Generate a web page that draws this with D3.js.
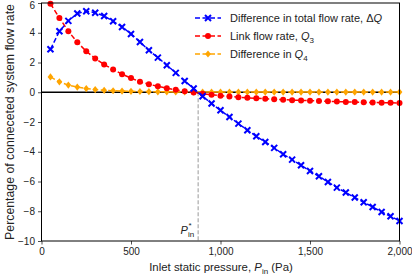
<!DOCTYPE html>
<html><head><meta charset="utf-8">
<script src="https://cdn.jsdelivr.net/npm/d3@7"></script>
<style>
html,body{margin:0;padding:0;background:#fff;}
text{font-family:"Liberation Sans",Arial,sans-serif;}
</style></head>
<body><svg id="c" width="412" height="278"></svg>
<script>
const pressures = [50,100,150,200,250,300,350,400,450,500,550,600,650,700,750,800,850,900,950,1000,
  1050,1100,1150,1200,1250,1300,1350,1400,1450,1500,1550,1600,1650,1700,1750,1800,1850,1900,1950,2000];
const deltaQ = [2.89,4.1,4.8,5.29,5.45,5.35,5.13,4.77,4.39,3.92,3.38,2.82,2.33,1.82,1.30,0.76,0.25,-0.27,-0.76,-1.21,
  -1.66,-2.11,-2.55,-2.96,-3.34,-3.74,-4.17,-4.53,-4.91,-5.29,-5.65,-6.03,-6.41,-6.74,-7.08,-7.39,-7.71,-8.05,-8.34,-8.65];
const linkQ3 = [5.95,5.0,4.1,3.36,2.76,2.27,1.86,1.53,1.21,0.95,0.7,0.54,0.4,0.27,0.17,0.07,-0.02,-0.1,-0.17,-0.23,
  -0.28,-0.33,-0.37,-0.41,-0.44,-0.47,-0.5,-0.53,-0.55,-0.57,-0.59,-0.61,-0.63,-0.65,-0.66,-0.68,-0.69,-0.7,-0.71,-0.72];
const diffQ4 = [1.03,0.7,0.48,0.35,0.25,0.18,0.13,0.1,0.08,0.06,0.05,0.04,0.03,0.03,0.02,0.02,0.02,0.01,0.01,0.01,
  0.01,0.01,0.01,0.01,0.01,0.01,0.01,0.01,0.01,0.01,0.01,0.01,0.01,0.01,0.01,0.01,0.01,0.01,0.01,0.01];
const xTicks = [0,500,1000,1500,2000];
const yTicks = [-10,-8,-6,-4,-2,0,2,4,6];
const pStar = 875;

const svg = d3.select("#c");
const L=41.5, R=399.5, T=3, B=241;
const x = d3.scaleLinear().domain([0,2000]).range([L,R]);
const y = d3.scaleLinear().domain([-10,6]).range([B,T]);

const xa = svg.append("g").attr("transform",`translate(0,${B})`)
  .call(d3.axisBottom(x).tickValues(xTicks).tickSize(3.5).tickPadding(3).tickFormat(d3.format(",")));
const ya = svg.append("g").attr("transform",`translate(${L},0)`)
  .call(d3.axisLeft(y).tickValues(yTicks).tickSize(3.5).tickPadding(3).tickFormat(d=>d<0?"\u2212"+Math.abs(d):d));
[xa,ya].forEach(a=>{a.select(".domain").remove();
  a.selectAll("text").attr("font-size",10).attr("fill","#222").style("font-family","'Liberation Sans',Arial,sans-serif");
  a.selectAll("line").attr("stroke","#222").attr("stroke-width",0.8);});
ya.selectAll(".tick").filter(d=>d===6).select("text").attr("dy","0.5em");

svg.append("line").attr("x1",L).attr("x2",R).attr("y1",y(0)).attr("y2",y(0))
  .attr("stroke","#000").attr("stroke-width",1.5);
svg.append("line").attr("x1",x(pStar)).attr("x2",x(pStar)).attr("y1",y(0)).attr("y2",B)
  .attr("stroke","#999").attr("stroke-width",1).attr("stroke-dasharray","4,2");

const series = [
  {vals:deltaQ, color:"#0000ff", marker:"x"},
  {vals:linkQ3, color:"#ff0000", marker:"o"},
  {vals:diffQ4, color:"#ffa500", marker:"d"}
];
svg.append("clipPath").attr("id","pc").append("rect").attr("x",L).attr("y",T).attr("width",R-L).attr("height",B-T);
function drawMarker(g, cx, cy, m, color){
  if(m==="x"){
    const s=3;
    g.append("path").attr("d",`M${cx-s},${cy-s}L${cx+s},${cy+s}M${cx-s},${cy+s}L${cx+s},${cy-s}`)
      .attr("stroke",color).attr("stroke-width",2).attr("fill","none");
  } else if(m==="o"){
    g.append("circle").attr("cx",cx).attr("cy",cy).attr("r",3).attr("fill",color);
  } else {
    const s=3.6;
    g.append("path").attr("d",`M${cx},${cy-s}L${cx+s*0.8},${cy}L${cx},${cy+s}L${cx-s*0.8},${cy}Z`).attr("fill",color);
  }
}
[2,1,0].forEach(i=>{
  const s=series[i];
  const g=svg.append("g");
  const line=d3.line().x((d,j)=>x(pressures[j])).y(d=>y(d));
  g.append("path").datum(s.vals).attr("d",line).attr("fill","none").attr("stroke",s.color)
    .attr("stroke-width",1.5).attr("stroke-dasharray","5,2.5").attr("clip-path","url(#pc)");
  s.vals.forEach((v,j)=>drawMarker(g,x(pressures[j]),y(v),s.marker,s.color));
});

svg.append("rect").attr("x",L).attr("y",T).attr("width",R-L).attr("height",B-T)
  .attr("fill","none").attr("stroke","#000").attr("stroke-width",1);

const legend = [
  {c:"#0000ff",m:"x",parts:[["Difference in total flow rate, \u0394",""],["Q","i"]]},
  {c:"#ff0000",m:"o",parts:[["Link flow rate, ",""],["Q","i"],["3","sub"]]},
  {c:"#ffa500",m:"d",parts:[["Difference in ",""],["Q","i"],["4","sub"]]}
];
legend.forEach((e,i)=>{
  const yy=18+i*18;
  const g=svg.append("g");
  g.append("line").attr("x1",195).attr("x2",221).attr("y1",yy).attr("y2",yy)
    .attr("stroke",e.c).attr("stroke-width",1.5).attr("stroke-dasharray","5,2.5");
  drawMarker(g,208,yy,e.m,e.c);
  const t=svg.append("text").attr("x",230).attr("y",yy+4).attr("font-size",11).attr("fill","#222");
  e.parts.forEach(p=>{
    const ts=t.append("tspan").text(p[0]);
    if(p[1]==="i") ts.attr("font-style","italic");
    if(p[1]==="sub") ts.attr("font-size",8).attr("dy",2.5);
  });
});

const pl=svg.append("text").attr("x",x(pStar)-4).attr("y",234).attr("text-anchor","end").attr("font-size",11).attr("fill","#222");
pl.append("tspan").text("P").attr("font-style","italic");
pl.append("tspan").text("in").attr("font-size",8).attr("dy",2.5);
svg.append("text").attr("x",x(pStar)-8).attr("y",228).attr("font-size",8).attr("fill","#222").attr("text-anchor","middle").text("*");

const xl=svg.append("text").attr("x",221).attr("y",271).attr("text-anchor","middle").attr("font-size",11.4).attr("fill","#222");
xl.append("tspan").text("Inlet static pressure, ");
xl.append("tspan").text("P").attr("font-style","italic");
xl.append("tspan").text("in").attr("font-size",8).attr("dy",2.5);
xl.append("tspan").text(" (Pa)").attr("dy",-2.5);

svg.append("text").attr("transform",`translate(13.5,${(T+B)/2}) rotate(-90)`).attr("text-anchor","middle")
  .attr("font-size",12.3).attr("fill","#222").text("Percentage of conneceted system flow rate");
</script></body></html>
